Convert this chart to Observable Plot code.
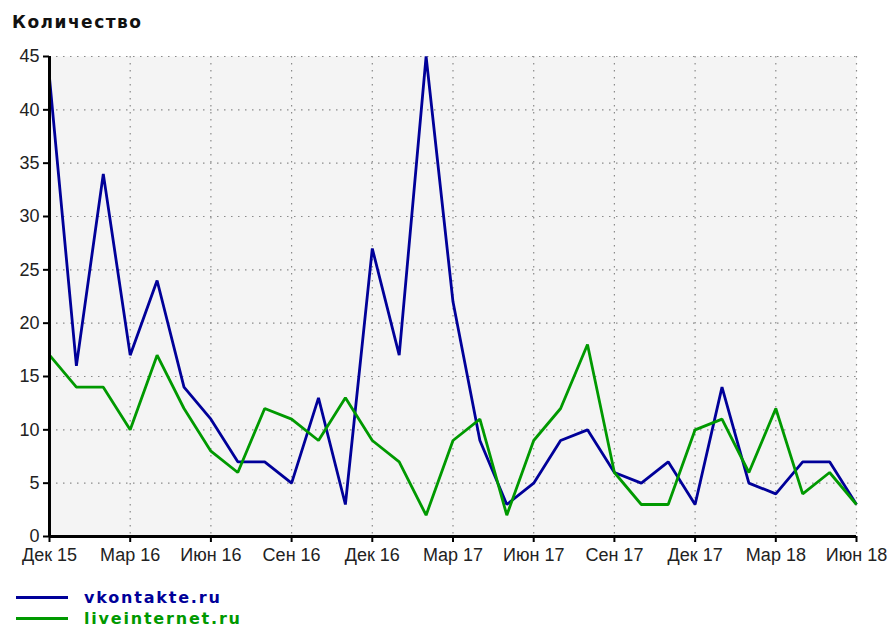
<!DOCTYPE html>
<html>
<head>
<meta charset="utf-8">
<script src="https://cdn.jsdelivr.net/npm/d3@7"></script>
<script src="https://cdn.jsdelivr.net/npm/@observablehq/plot@0.6"></script>
<style>
  html, body { margin: 0; padding: 0; background: #fff; }
  body { width: 892px; height: 628px; position: relative; overflow: hidden; font-family: "Liberation Sans", Arial, sans-serif; }
  #title { position: absolute; left: 12px; top: 12px; font: bold 17px "DejaVu Sans", sans-serif; letter-spacing: 1.5px; color: #111; }
  #chart { position: absolute; left: 0; top: 44px; }
  #legend { position: absolute; left: 16px; top: 587px; }
  .item { display: flex; align-items: center; height: 21px; }
  .swatch { width: 52px; height: 3px; margin-right: 16px; }
  .label { font: bold 16px "DejaVu Sans", sans-serif; letter-spacing: 1.8px; }
</style>
</head>
<body>
<div id="title">Количество</div>
<div id="chart"></div>
<div id="legend"></div>
<script>
const months = ["Дек 15","Янв 16","Фев 16","Мар 16","Апр 16","Май 16","Июн 16","Июл 16","Авг 16","Сен 16","Окт 16","Ноя 16",
  "Дек 16","Янв 17","Фев 17","Мар 17","Апр 17","Май 17","Июн 17","Июл 17","Авг 17","Сен 17","Окт 17","Ноя 17",
  "Дек 17","Янв 18","Фев 18","Мар 18","Апр 18","Май 18","Июн 18"];
const vkontakte = [43,16,34,17,24,14,11,7,7,5,13,3,27,17,45,22,9,3,5,9,10,6,5,7,3,14,5,4,7,7,3];
const liveinternet = [17,14,14,10,17,12,8,6,12,11,9,13,9,7,2,9,11,2,9,12,18,6,3,3,10,11,6,12,4,6,3];
const xTickLabels = ["Дек 15","Мар 16","Июн 16","Сен 16","Дек 16","Мар 17","Июн 17","Сен 17","Дек 17","Мар 18","Июн 18"];
const yTicks = [0,5,10,15,20,25,30,35,40,45];
const seriesNames = ["vkontakte.ru","liveinternet.ru"];
const seriesColors = ["#000099","#009900"];

const xTicks = xTickLabels.map(l => months.indexOf(l));
const rows = [];
months.forEach((m, i) => {
  rows.push({idx: i, month: m, value: vkontakte[i], series: seriesNames[0]});
  rows.push({idx: i, month: m, value: liveinternet[i], series: seriesNames[1]});
});

const grid = {stroke: "#8a8a8a", strokeWidth: 1.2, strokeDasharray: "1.5,5.5", strokeOpacity: 1};

const chart = Plot.plot({
  width: 892,
  height: 530,
  marginLeft: 49,
  marginRight: 36,
  marginTop: 12,
  marginBottom: 38,
  style: {fontFamily: "'Liberation Sans', Arial, sans-serif", fontSize: "16px", color: "#222", background: "transparent"},
  x: {type: "linear", domain: [0, months.length - 1], label: null},
  y: {domain: [0, 45], label: null},
  color: {domain: seriesNames, range: seriesColors},
  marks: [
    Plot.frame({fill: "#f4f4f4", stroke: null}),
    Plot.ruleY(yTicks.slice(1), grid),
    Plot.ruleX(xTicks.slice(1), grid),
    Plot.axisY({ticks: yTicks, tickSize: 6, tickPadding: 4, stroke: "#000", strokeWidth: 2, fill: "#222", fontSize: 18, letterSpacing: "1.2px"}),
    Plot.axisX({ticks: xTicks, tickFormat: i => months[i], tickSize: 6, tickPadding: 6, stroke: "#000", strokeWidth: 2, fill: "#222", fontSize: 18, letterSpacing: "1.8px"}),
    Plot.line(rows, {x: "idx", y: "value", z: "series", stroke: "series", strokeWidth: 2.8, strokeLinejoin: "miter", strokeLinecap: "butt"}),
    Plot.ruleY([0], {stroke: "#000", strokeWidth: 3}),
    Plot.ruleX([0], {stroke: "#000", strokeWidth: 3})
  ]
});
document.getElementById("chart").appendChild(chart);

const legend = document.getElementById("legend");
seriesNames.forEach((name, i) => {
  const item = document.createElement("div");
  item.className = "item";
  const sw = document.createElement("span");
  sw.className = "swatch";
  sw.style.background = seriesColors[i];
  const lb = document.createElement("span");
  lb.className = "label";
  lb.style.color = seriesColors[i];
  lb.textContent = name;
  item.appendChild(sw);
  item.appendChild(lb);
  legend.appendChild(item);
});
</script>
</body>
</html>
